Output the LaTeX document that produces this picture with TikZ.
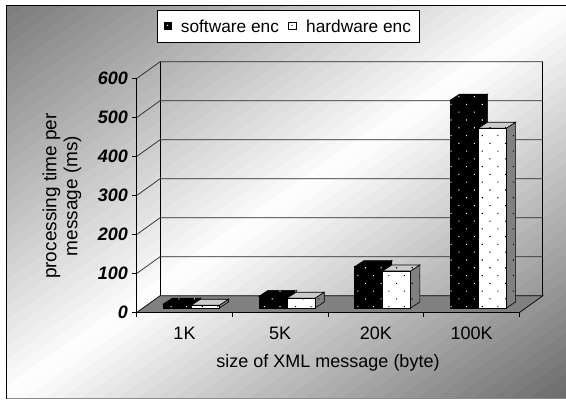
\documentclass[tikz,border=0pt]{standalone}
\usepackage{fontspec}
\setmainfont{Liberation Sans}
\usetikzlibrary{patterns.meta,positioning}
\tikzset{
  axisline/.style ={draw=black,line width=0.8pt},
  gridline/.style ={draw=black!85,line width=0.7pt},
  floorface/.style={fill=black!50,draw=black,line width=0.7pt},
  swface/.style   ={draw=black,line width=0.6pt,fill=black,
                    postaction={pattern={Dots[distance=11pt,angle=45,radius=0.75pt]},pattern color=white}},
  hwfront/.style  ={draw=black,line width=0.6pt,fill=white,
                    postaction={pattern={Dots[distance=11pt,angle=45,radius=0.75pt]},pattern color=black}},
  hwtop/.style    ={hwfront,fill=black!20},
  hwside/.style   ={hwfront,fill=black!50},
  ticklab/.style  ={anchor=east,inner sep=0pt,font=\fontsize{18}{20}\selectfont\bfseries\itshape},
  catlab/.style   ={inner sep=0pt,font=\fontsize{18}{21}\selectfont},
  ylab/.style     ={rotate=90,inner sep=0pt,font=\fontsize{19}{21}\selectfont},
  keylab/.style   ={anchor=west,inner sep=0pt,font=\fontsize{17.3}{20}\selectfont},
  legendbox/.style={draw=black,fill=white,line width=0.8pt,minimum width=262pt,minimum height=32pt},
}
% one 3d bar: left x, value, front, top, side
\newcommand\chartbar[5]{%
  \pgfmathsetmacro\bt{308-0.39*#2}
  \draw[#5] (#1+28,308) -- ++(9.3,-6) -- (#1+37.3,\bt-6) -- (#1+28,\bt) -- cycle;
  \draw[#4] (#1,\bt) -- ++(9.3,-6) -- ++(28,0) -- (#1+28,\bt) -- cycle;
  \draw[#3] (#1,308) rectangle (#1+28,\bt);
}

\begin{document}
\begin{tikzpicture}[x=1pt,y=-1pt]
  \useasboundingbox (0,0) rectangle (566,400);
  % diagonal gray-white-gray background, in bands
  \begin{scope}
    \clip (6.5,5.5) rectangle (566,398.5);
    \foreach \k in {0,...,59}{
      \pgfmathsetmacro\sa{\k/30}
      \pgfmathsetmacro\sb{(\k+1.2)/30}
      \pgfmathsetmacro\t{(\k+0.5)/60}
      \pgfmathsetmacro\g{\t<0.5 ? 52*(1-2*\t) : 58*(2*\t-1)}
      \fill[black!\g] (6.5+\sa*559.5,5.5) -- (6.5+\sb*559.5,5.5)
        -- (6.5,5.5+\sb*393) -- (6.5,5.5+\sa*393) -- cycle;
    }
  \end{scope}
  \draw[line width=1.2pt] (6.5,398.5) -- (6.5,5.5) -- (566,5.5);
  \draw[black!45,line width=1pt] (6.5,398.5) -- (566,398.5);

  % walls and floor
  \draw[floorface] (136.7,312.5) -- (519.5,312.5) -- (542.8,295.8) -- (160,295.8) -- cycle;
  \foreach \v in {100,200,...,600}
    \draw[gridline] (136.7,{312.5-0.39*\v}) -- (160,{295.8-0.39*\v}) -- (542.8,{295.8-0.39*\v});
  \draw[axisline] (160,295.8) -- (160,61.8);
  \draw[axisline] (542.8,295.8) -- (542.8,61.8);

  % value axis
  \draw[axisline] (136.7,312.5) -- (136.7,78.5);
  \foreach \v in {0,100,...,600}{
    \draw[axisline] (132,{312.5-0.39*\v}) -- ++(4.7,0);
    \node[ticklab] (y\v) at (128,{312.5-0.39*\v}) {\v};
  }
  \node[ylab] (ytitle1) at (51.5,196) {processing time per};
  \node[ylab] (ytitle2) at (72.5,196) {message (ms)};

  % category axis
  \draw[axisline] (136.7,312.5) -- (519.5,312.5);
  \foreach \i in {0,...,4} \draw[axisline] ({136.7+95.7*\i},312.5) -- ++(0,4);
  \foreach \lab [count=\i from 0] in {1K,5K,20K,100K}
    \node[catlab] (x\i) at ({184.5+95.7*\i},333) {\lab};
  \node[catlab] (xtitle) at (328,363) {size of XML message (byte)};

  % bars
  \foreach \i/\sw/\hw in {0/10/7,1/30/25,2/106/95,3/533/461}{
    \pgfmathsetmacro\lx{136.7+95.7*\i+26.5}
    \chartbar{\lx}{\sw}{swface}{swface}{swface}
    \chartbar{\lx+28}{\hw}{hwfront}{hwtop}{hwside}
  }

  % legend
  \node[legendbox] (legend) at (288,26) {};
  \draw[black,fill=black] (164,21.7) rectangle (171.3,29);
  \fill[white] (167.6,25.4) circle (0.7);
  \node[keylab] (swkey) at (180.7,26) {software enc};
  \draw[black,fill=white] (288.5,21.7) rectangle (295.8,29);
  \fill[black] (292.1,25.4) circle (0.7);
  \node[keylab] (hwkey) at (306,26) {hardware enc};
\end{tikzpicture}
\end{document}
